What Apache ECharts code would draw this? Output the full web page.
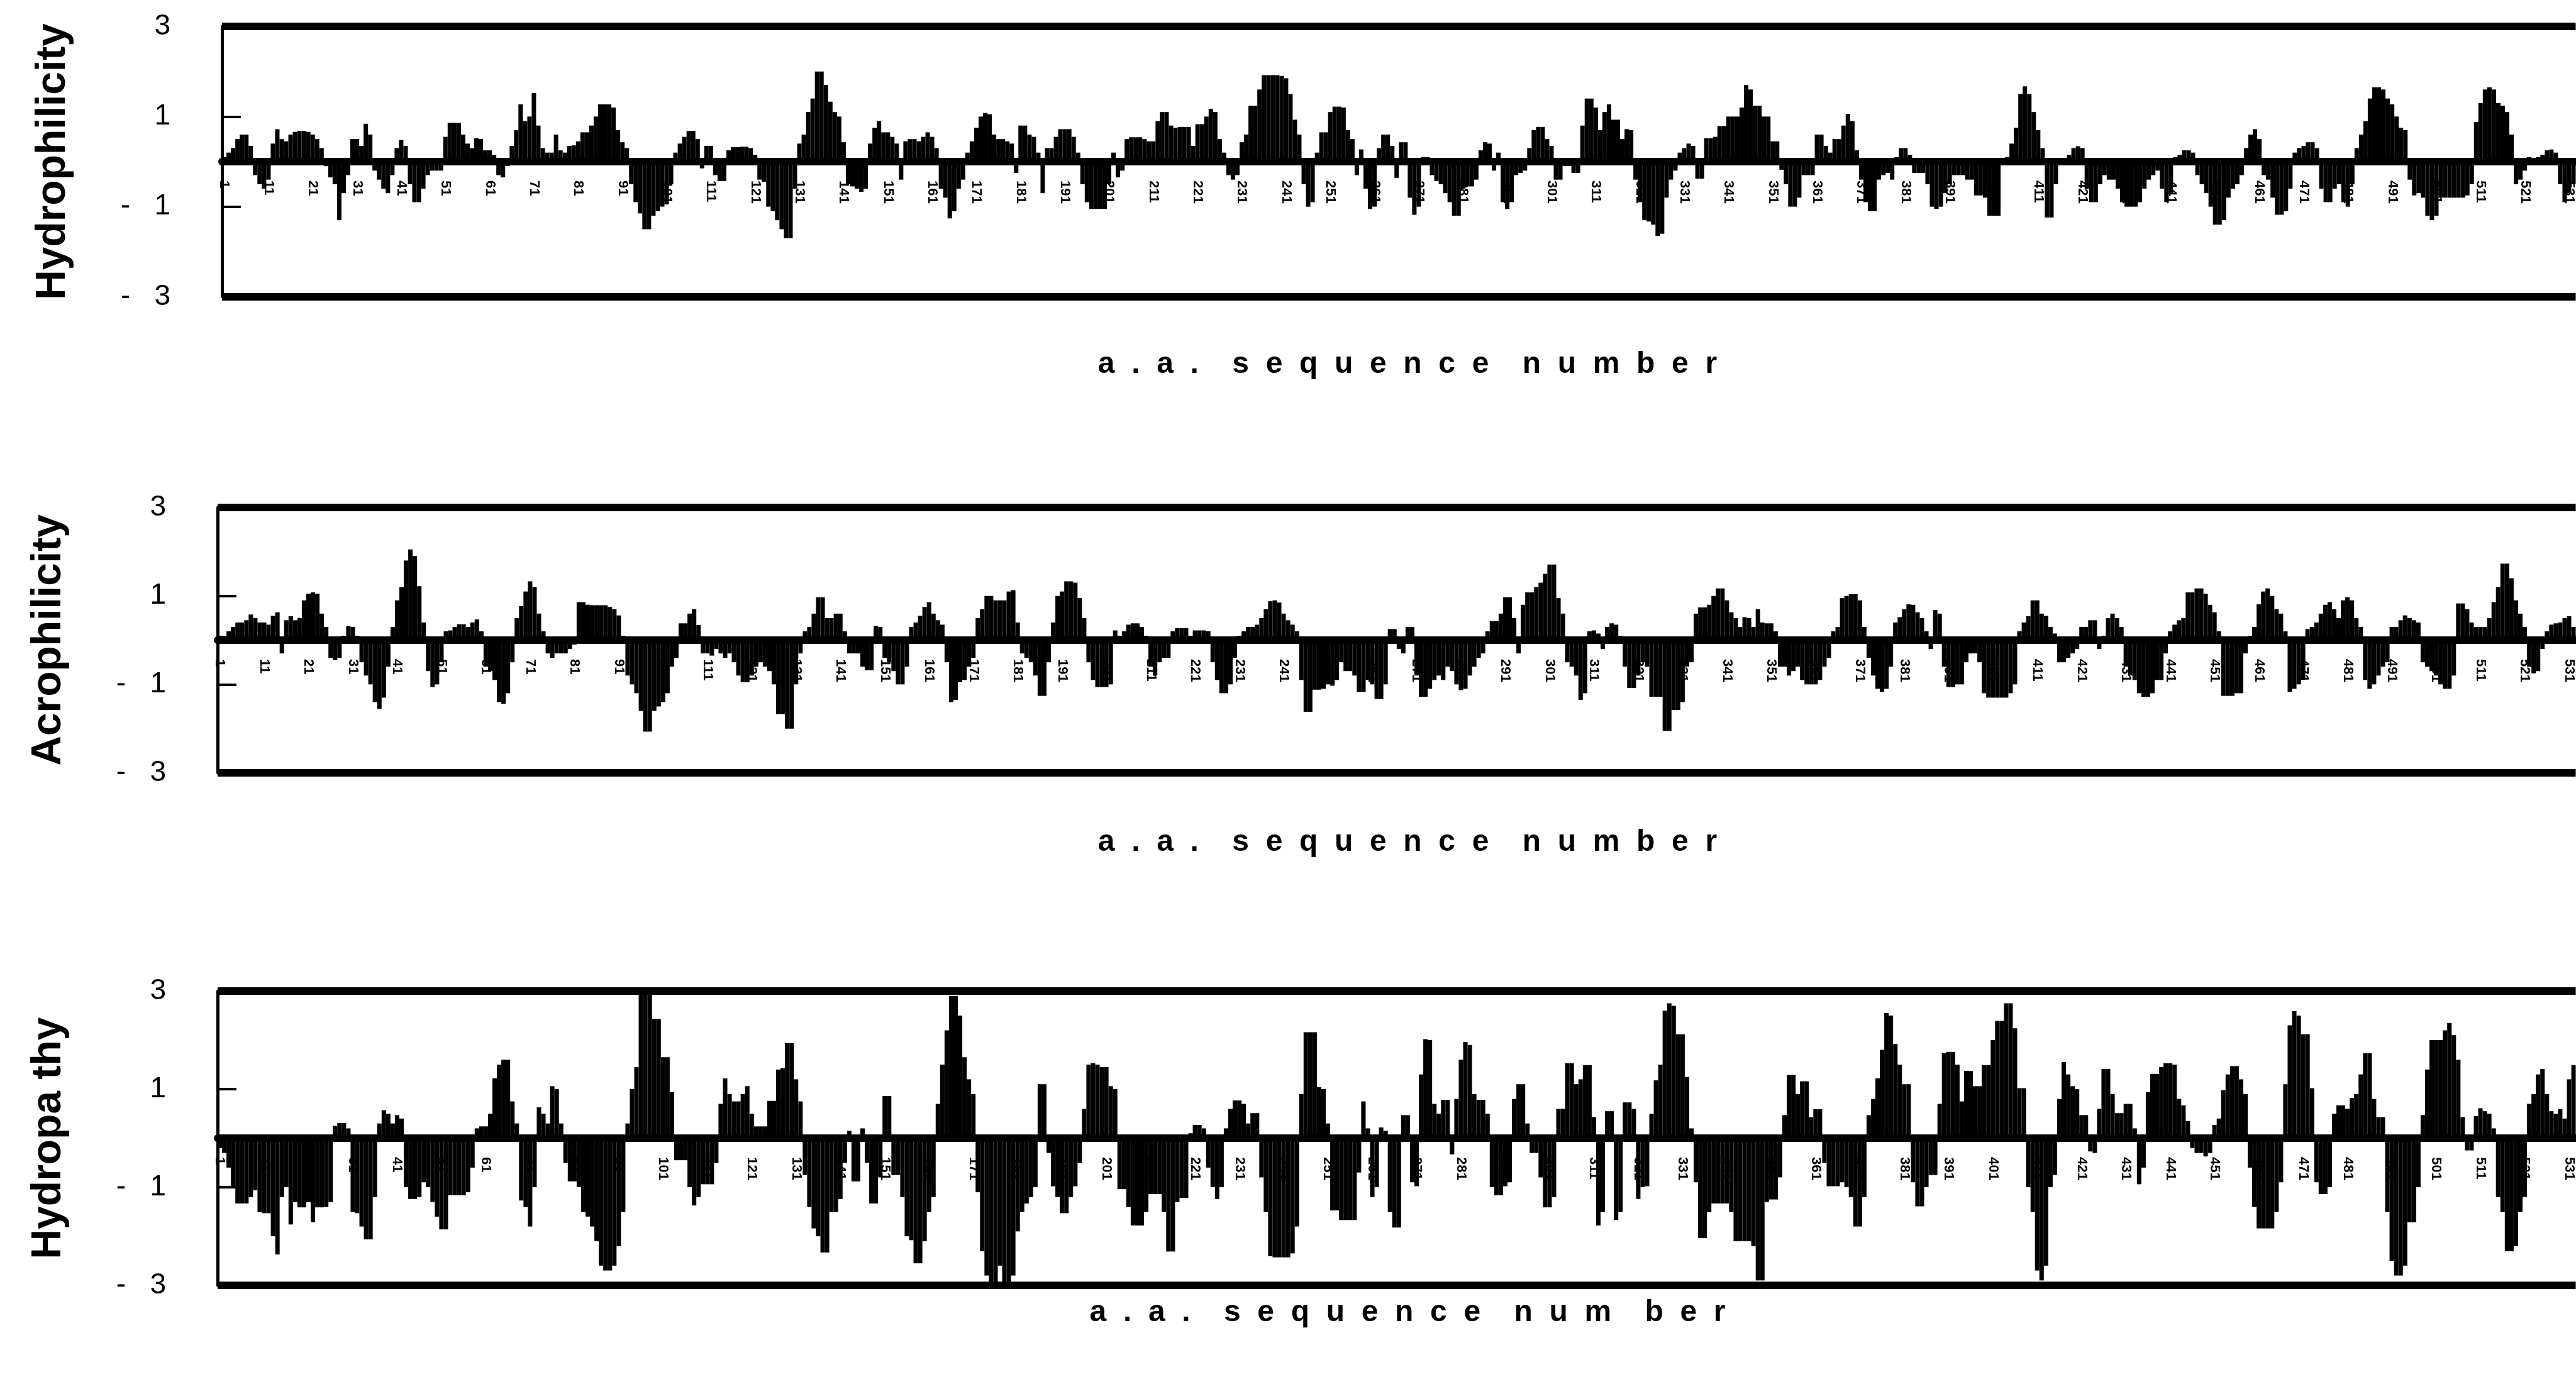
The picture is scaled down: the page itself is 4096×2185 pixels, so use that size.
<!DOCTYPE html>
<html>
<head>
<meta charset="utf-8">
<script src="https://cdn.jsdelivr.net/npm/echarts@6/dist/echarts.min.js"></script>
<style>
  html, body { margin: 0; padding: 0; background: #fff; }
  #chart { width: 4096px; height: 2185px; }
</style>
</head>
<body>
<div id="chart"></div>
<script>
// values per residue (residues 1..532 visible)
const hydrophilicity = [
  0.1, 0.2, 0.3, 0.5, 0.6, 0.6, 0.35, -0.3, -0.5, -0.6,
  -0.4, 0.4, 0.72, 0.5, 0.45, 0.6, 0.66, 0.68, 0.68, 0.66,
  0.6, 0.5, 0.3, -0.1, -0.35, -0.5, -1.3, -0.7, -0.3, 0.5,
  0.5, 0.35, 0.84, 0.6, -0.2, -0.4, -0.6, -0.7, -0.3, 0.3,
  0.48, 0.35, -0.5, -0.9, -0.9, -0.6, -0.3, -0.2, -0.2, -0.2,
  0.55, 0.86, 0.86, 0.86, 0.6, 0.4, 0.3, 0.52, 0.5, 0.25,
  0.25, 0.15, -0.3, -0.35, -0.1, 0.35, 0.7, 1.27, 0.9, 1.0,
  1.52, 0.8, 0.3, 0.2, 0.2, 0.6, 0.25, 0.2, 0.35, 0.36,
  0.45, 0.65, 0.65, 0.8, 1.0, 1.27, 1.27, 1.27, 1.2, 0.7,
  0.43, 0.3, -0.5, -0.9, -1.15, -1.5, -1.5, -1.2, -1.1, -1.0,
  -0.95, -0.5, 0.2, 0.4, 0.55, 0.68, 0.68, 0.5, -0.15, 0.35,
  0.35, -0.3, -0.43, -0.43, 0.25, 0.32, 0.32, 0.33, 0.33, 0.3,
  0.15, -0.4, -0.45, -1.0, -1.1, -1.3, -1.5, -1.7, -1.7, -0.6,
  0.4, 0.6, 1.1, 1.4, 2.0, 2.0, 1.7, 1.33, 1.1, 1.0,
  0.43, -0.5, -0.55, -0.6, -0.67, -0.6, 0.4, 0.75, 0.9, 0.65,
  0.65, 0.55, 0.4, -0.4, 0.45, 0.5, 0.5, 0.45, 0.55, 0.65,
  0.55, 0.3, -0.6, -0.8, -1.26, -1.1, -0.6, -0.4, 0.2, 0.45,
  0.75, 1.0, 1.08, 1.05, 0.6, 0.5, 0.5, 0.45, 0.4, -0.25,
  0.8, 0.8, 0.6, 0.55, 0.2, -0.7, 0.3, 0.3, 0.55, 0.72,
  0.72, 0.72, 0.55, 0.2, -0.5, -0.9, -1.05, -1.05, -1.05, -1.05,
  -0.5, 0.2, -0.35, -0.2, 0.5, 0.54, 0.54, 0.54, 0.5, 0.45,
  0.45, 0.9, 1.1, 1.1, 0.8, 0.75, 0.77, 0.77, 0.77, 0.35,
  0.83, 0.83, 1.0, 1.17, 1.1, 0.5, 0.2, -0.3, -0.4, -0.3,
  0.43, 0.6, 1.24, 1.24, 1.6, 1.92, 1.92, 1.92, 1.92, 1.9,
  1.85, 1.5, 0.93, 0.6, -0.5, -1.0, -0.9, 0.2, 0.65, 0.65,
  1.1, 1.22, 1.22, 1.2, 0.7, 0.5, -0.3, 0.27, -0.6, -1.05,
  -1.0, 0.3, 0.6, 0.6, 0.35, -0.36, 0.43, 0.43, -0.8, -1.18,
  -1.0, 0.1, 0.1, -0.3, -0.43, -0.5, -0.7, -0.9, -1.2, -1.2,
  -0.6, -0.55, -0.55, -0.4, 0.25, 0.43, 0.4, -0.2, 0.2, -0.9,
  -1.05, -0.9, -0.3, -0.25, -0.2, 0.3, 0.7, 0.77, 0.77, 0.5,
  0.35, -0.4, -0.4, -0.1, -0.1, -0.25, -0.25, 0.8, 1.4, 1.4,
  1.2, 0.7, 1.1, 1.27, 0.93, 0.93, 0.5, 0.72, 0.7, -0.4,
  -0.9, -1.3, -1.33, -1.4, -1.65, -1.6, -0.8, -0.4, -0.2, 0.2,
  0.3, 0.4, 0.35, -0.38, -0.38, 0.52, 0.52, 0.55, 0.79, 0.79,
  1.0, 1.0, 1.0, 1.2, 1.7, 1.6, 1.24, 1.24, 1.0, 1.0,
  0.45, 0.45, -0.18, -0.5, -1.0, -1.0, -0.8, -0.3, -0.3, -0.3,
  0.6, 0.6, 0.35, 0.2, 0.5, 0.5, 0.8, 1.06, 0.9, 0.25,
  -0.4, -0.9, -1.1, -1.1, -0.4, -0.3, -0.25, -0.4, 0.1, 0.3,
  0.3, 0.15, -0.25, -0.25, -0.25, -0.5, -1.0, -1.05, -1.0, -0.7,
  -0.5, -0.3, -0.3, -0.3, -0.4, -0.4, -0.75, -0.75, -0.8, -1.2,
  -1.2, -1.2, 0.05, 0.1, 0.4, 0.75, 1.5, 1.67, 1.5, 1.1,
  0.7, 0.3, -1.24, -1.24, -0.5, 0.05, 0.05, 0.15, 0.3, 0.34,
  0.3, -0.6, -0.9, -0.9, -0.5, -0.3, -0.4, -0.4, -0.6, -0.9,
  -1.0, -1.0, -1.0, -0.9, -0.6, -0.4, -0.3, -0.2, -0.6, -0.9,
  -0.7, 0.1, 0.15, 0.25, 0.25, 0.2, -0.3, -0.5, -0.7, -1.0,
  -1.4, -1.4, -1.3, -0.8, -0.6, -0.5, -0.3, 0.3, 0.6, 0.72,
  0.5, -0.3, -0.4, -0.8, -1.18, -1.18, -1.1, -0.6, 0.2, 0.3,
  0.35, 0.43, 0.43, 0.3, -0.6, -0.9, -0.9, -0.6, -0.5, -0.9,
  -1.0, -0.5, 0.3, 0.6, 0.9, 1.4, 1.65, 1.65, 1.6, 1.4,
  1.27, 1.0, 0.75, 0.7, -0.4, -0.75, -0.7, -0.8, -1.2, -1.3,
  -1.2, -0.8, -0.8, -0.8, -0.8, -0.8, -0.8, -0.75, -0.5, 0.88,
  1.3, 1.6, 1.65, 1.6, 1.3, 1.24, 1.1, 0.6, -0.5, -0.4,
  -0.2, 0.1, 0.05, 0.1, 0.15, 0.25, 0.27, 0.2, -0.5, -0.9,
  -0.7, -0.5
];

const acrophilicity = [
  0.1, 0.1, 0.2, 0.3, 0.4, 0.4, 0.45, 0.58, 0.5, 0.4,
  0.4, 0.35, 0.55, 0.63, -0.3, 0.45, 0.54, 0.45, 0.5, 0.9,
  1.05, 1.08, 1.05, 0.6, 0.3, -0.4, -0.45, -0.4, 0.1, 0.32,
  0.3, 0.1, -0.5, -0.8, -1.0, -1.4, -1.55, -1.3, -0.6, 0.3,
  0.9, 1.2, 1.8, 2.05, 1.9, 1.22, 0.4, -0.7, -1.06, -1.0,
  -0.5, 0.2, 0.22, 0.3, 0.36, 0.36, 0.3, 0.4, 0.47, 0.2,
  -0.6, -0.7, -0.9, -1.4, -1.44, -1.2, -0.5, 0.5, 0.77, 1.1,
  1.33, 1.2, 0.6, 0.2, -0.3, -0.4, -0.3, -0.3, -0.3, -0.2,
  -0.1, 0.86, 0.86, 0.8, 0.79, 0.79, 0.79, 0.79, 0.75, 0.7,
  0.56, 0.1, -0.8, -1.0, -1.2, -1.6, -2.07, -2.07, -1.6, -1.5,
  -1.4, -1.2, -0.6, -0.4, 0.38, 0.38, 0.6, 0.7, 0.34, -0.3,
  -0.3, -0.35, -0.2, -0.3, -0.4, -0.3, -0.5, -0.8, -0.95, -0.95,
  -0.8, -0.6, -0.5, -0.6, -0.7, -1.0, -1.67, -1.67, -2.0, -2.0,
  -1.0, -0.3, 0.2, 0.3, 0.6, 0.97, 0.97, 0.5, 0.5, 0.6,
  0.6, 0.2, -0.3, -0.3, -0.3, -0.6, -0.68, -0.68, 0.32, 0.3,
  -0.4, -0.5, -0.7, -1.0, -1.0, -0.6, 0.3, 0.4, 0.55, 0.75,
  0.86, 0.6, 0.45, 0.35, -0.5, -1.4, -1.35, -0.95, -0.9, -0.6,
  -0.4, 0.5, 0.7, 1.0, 1.0, 0.9, 0.9, 0.9, 1.1, 1.13,
  0.4, -0.3, -0.4, -0.5, -0.8, -1.26, -1.26, -0.5, 0.4, 1.0,
  1.1, 1.33, 1.33, 1.3, 0.95, 0.5, -0.5, -0.9, -1.06, -1.06,
  -1.06, -1.0, 0.22, 0.1, 0.2, 0.35, 0.38, 0.38, 0.3, 0.1,
  -0.6, -0.8, -0.5, -0.4, -0.4, 0.2, 0.27, 0.27, 0.27, 0.1,
  0.22, 0.22, 0.22, 0.2, -0.5, -0.9, -1.2, -1.2, -1.0, -0.4,
  0.1, 0.2, 0.3, 0.3, 0.35, 0.5, 0.7, 0.88, 0.9, 0.85,
  0.6, 0.45, 0.35, 0.2, -0.9, -1.62, -1.62, -1.12, -1.12, -1.1,
  -1.0, -1.03, -0.9, -0.5, -0.7, -0.7, -0.8, -1.17, -1.17, -0.9,
  -1.0, -1.33, -1.33, -1.0, 0.25, 0.25, -0.2, -0.3, 0.3, 0.3,
  -0.8, -1.28, -1.28, -1.1, -0.9, -0.8, -0.9, -0.6, -0.7, -1.0,
  -1.13, -1.1, -0.8, -0.6, -0.4, -0.3, 0.2, 0.43, 0.43, 0.6,
  0.97, 0.97, 0.5, -0.3, 0.8, 1.08, 1.08, 1.2, 1.3, 1.5,
  1.71, 1.71, 0.95, 0.6, -0.5, -0.6, -0.8, -1.35, -1.2, 0.2,
  0.22, 0.15, -0.2, 0.3, 0.38, 0.35, 0.1, -0.6, -1.08, -1.08,
  -0.8, -0.5, -0.6, -1.28, -1.28, -1.28, -2.05, -2.05, -1.58, -1.58,
  -1.4, -0.6, -0.5, 0.6, 0.74, 0.74, 0.8, 1.0, 1.17, 1.17,
  0.9, 0.63, 0.5, 0.3, 0.52, 0.5, 0.3, 0.7, 0.4, 0.38,
  0.38, 0.2, -0.6, -0.6, -0.8, -0.7, -0.6, -0.9, -1.0, -1.0,
  -1.0, -0.9, -0.6, -0.4, 0.2, 0.3, 0.95, 1.0, 1.04, 1.04,
  0.9, 0.3, -0.4, -0.8, -1.1, -1.17, -1.1, -0.6, 0.4, 0.52,
  0.7, 0.81, 0.8, 0.63, 0.5, 0.2, -0.2, 0.68, 0.6, -0.6,
  -1.06, -1.06, -1.0, -1.0, -0.5, -0.3, -0.3, -0.5, -1.2, -1.3,
  -1.3, -1.3, -1.3, -1.3, -1.2, -1.0, 0.2, 0.4, 0.54, 0.9,
  0.9, 0.6, 0.55, 0.3, 0.15, -0.5, -0.5, -0.4, -0.3, -0.2,
  0.3, 0.3, 0.45, 0.45, -0.2, 0.1, 0.5, 0.6, 0.5, 0.3,
  -0.6, -0.8, -0.9, -1.2, -1.28, -1.28, -1.2, -0.9, -0.9, -0.3,
  0.2, 0.35, 0.45, 0.5, 1.08, 1.08, 1.17, 1.17, 1.05, 0.8,
  0.63, 0.2, -1.26, -1.26, -1.26, -1.2, -1.2, -0.3, 0.1, 0.3,
  0.81, 1.1, 1.17, 1.0, 0.7, 0.6, 0.2, -1.17, -1.1, -1.0,
  -0.9, 0.25, 0.3, 0.4, 0.6, 0.8, 0.86, 0.7, 0.5, 0.9,
  0.97, 0.9, 0.5, 0.3, -0.9, -1.1, -1.0, -0.8, -0.6, -0.5,
  0.3, 0.3, 0.45, 0.56, 0.5, 0.45, 0.4, -0.5, -0.6, -0.7,
  -0.8, -1.0, -1.1, -1.1, -0.8, 0.83, 0.83, 0.7, 0.4, 0.3,
  0.3, 0.3, 0.5, 0.86, 1.2, 1.73, 1.73, 1.4, 0.9, 0.6,
  0.3, -0.6, -0.75, -0.7, -0.2, 0.2, 0.35, 0.38, 0.4, 0.5,
  0.54, 0.3
];

const hydropathy = [
  -0.2, -0.3, -0.6, -1.0, -1.33, -1.33, -1.33, -1.2, -1.06, -1.5,
  -1.53, -1.53, -2.0, -2.37, -1.2, -1.0, -1.76, -1.3, -1.41, -1.41,
  -1.3, -1.71, -1.41, -1.41, -1.4, -1.3, 0.25, 0.31, 0.31, 0.2,
  -1.5, -1.53, -1.8, -2.06, -2.06, -1.2, 0.3, 0.57, 0.5, 0.3,
  0.47, 0.4, -1.0, -1.24, -1.24, -1.2, -0.9, -1.0, -1.3, -1.6,
  -1.86, -1.86, -1.16, -1.16, -1.16, -1.16, -1.1, -0.6, 0.2, 0.24,
  0.24, 0.5, 1.22, 1.5, 1.6, 1.6, 0.75, 0.3, -1.27, -1.4,
  -1.8, -1.0, 0.63, 0.5, 0.3, 1.06, 1.0, 0.3, -0.5, -0.88,
  -0.88, -1.0, -1.5, -1.6, -1.8, -2.1, -2.6, -2.7, -2.7, -2.6,
  -2.2, -1.5, 0.3, 1.0, 1.45, 3.0, 3.0, 3.0, 2.43, 2.43,
  1.65, 1.65, 0.94, -0.45, -0.45, -0.45, -1.0, -1.37, -1.2, -0.94,
  -0.94, -0.94, -0.5, 0.7, 1.22, 0.9, 0.75, 0.75, 0.9, 1.06,
  0.5, 0.24, 0.24, 0.24, 0.76, 0.76, 1.4, 1.43, 1.94, 1.94,
  1.2, 0.75, -0.75, -1.4, -1.84, -2.0, -2.33, -2.33, -1.5, -1.5,
  -1.24, -0.5, 0.15, -0.88, -0.88, 0.2, -0.5, -1.33, -1.33, -0.8,
  0.86, 0.86, -0.75, -0.75, -1.2, -2.0, -2.08, -2.55, -2.55, -2.1,
  -1.5, -1.2, 0.7, 1.5, 2.2, 2.9, 2.9, 2.5, 1.65, 1.2,
  0.9, -1.1, -2.3, -2.8, -3.0, -3.0, -2.6, -3.0, -3.0, -2.8,
  -1.9, -1.5, -1.33, -1.2, -1.0, 1.1, 1.1, -0.3, -0.98, -1.2,
  -1.53, -1.53, -1.2, -0.98, -0.5, 0.6, 1.5, 1.53, 1.5, 1.45,
  1.45, 1.06, 1.0, -1.04, -1.04, -1.4, -1.78, -1.78, -1.78, -1.5,
  -1.14, -1.14, -1.14, -1.5, -2.31, -2.31, -1.3, -1.22, -1.22, 0.1,
  0.27, 0.27, 0.2, -0.6, -1.0, -1.24, -1.0, 0.2, 0.6, 0.77,
  0.77, 0.7, 0.3, 0.51, 0.51, -0.8, -1.5, -2.4, -2.43, -2.43,
  -2.43, -2.43, -2.35, -1.8, 0.9, 2.16, 2.16, 2.16, 1.04, 1.0,
  0.3, -1.47, -1.47, -1.67, -1.67, -1.67, -1.67, -0.7, 0.75, 0.2,
  -1.2, -1.0, 0.22, 0.15, -1.5, -1.82, -1.82, 0.47, 0.47, -0.9,
  -0.98, 1.3, 2.02, 2.0, 0.7, 0.5, 0.78, 0.78, -0.33, 0.8,
  1.6, 1.96, 1.9, 0.9, 0.78, 0.78, 0.5, -1.0, -1.16, -1.16,
  -0.98, -0.9, 0.8, 1.1, 1.1, 0.3, -0.3, -0.3, -0.8, -1.41,
  -1.41, -1.2, 0.6, 0.6, 1.53, 1.53, 1.1, 1.2, 1.49, 1.49,
  0.43, -1.78, -1.5, 0.55, 0.55, -1.67, -1.5, 0.73, 0.73, 0.6,
  -1.24, -1.0, -0.98, 0.5, 1.18, 1.5, 2.6, 2.75, 2.7, 2.12,
  2.12, 1.25, 0.2, -0.9, -2.04, -2.04, -1.5, -1.33, -1.33, -1.33,
  -1.33, -1.5, -2.1, -2.1, -2.1, -2.1, -2.2, -2.9, -2.9, -1.3,
  -1.25, -1.25, -0.8, 0.47, 1.29, 1.29, 0.9, 1.16, 1.16, 0.43,
  0.59, 0.59, -0.5, -0.98, -0.98, -0.98, -0.9, -1.0, -1.2, -1.8,
  -1.8, -1.2, 0.47, 0.8, 1.22, 1.8, 2.55, 2.5, 1.92, 1.5,
  1.1, 1.1, -0.9, -1.39, -1.39, -1.0, -0.75, -0.75, 0.7, 1.73,
  1.76, 1.76, 1.5, 0.75, 1.37, 1.37, 1.06, 1.06, 1.49, 1.49,
  2.0, 2.39, 2.39, 2.75, 2.75, 2.24, 1.02, 1.02, -1.0, -1.5,
  -2.7, -2.9, -2.6, -1.0, -0.75, 0.8, 1.55, 1.3, 1.06, 1.0,
  0.47, 0.47, -0.27, -0.3, 0.6, 1.41, 1.41, 0.9, 0.51, 0.51,
  0.7, 0.7, 0.2, -0.94, -0.6, 0.94, 1.31, 1.31, 1.45, 1.53,
  1.53, 1.5, 0.8, 0.67, 0.35, -0.2, -0.3, -0.3, -0.37, -0.3,
  0.27, 0.4, 0.98, 1.3, 1.47, 1.47, 1.2, 0.9, -0.6, -1.4,
  -1.84, -1.84, -1.84, -1.84, -1.5, -0.9, 1.1, 2.3, 2.59, 2.5,
  2.12, 2.12, 1.02, -0.9, -1.14, -1.14, -1.0, 0.5, 0.67, 0.67,
  0.6, 0.82, 0.9, 1.3, 1.73, 1.73, 0.8, 0.43, 0.43, -1.5,
  -2.5, -2.8, -2.8, -2.6, -1.71, -1.71, -1.0, 0.47, 1.4, 2.0,
  2.0, 2.0, 2.2, 2.35, 2.1, 1.6, 0.43, -0.25, -0.25, 0.45,
  0.61, 0.55, 0.5, 0.2, -1.2, -1.5, -2.3, -2.3, -2.2, -1.5,
  -1.2, 0.7, 0.9, 1.3, 1.41, 0.9, 0.55, 0.5, 0.59, 0.4,
  1.2, 1.49
];

const panelNames = ['Hydrophilicity', 'Acrophilicity', 'Hydropa thy'];
const xTitleWords = [['a.a.', 'sequence', 'number'], ['a.a.', 'sequence', 'number'], ['a.a.', 'sequence', 'num', 'ber']];
const yTickValues = [3, 1, -1, -3];
const residues = hydrophilicity.map((_, i) => String(i + 1));

const FONT = '"Liberation Sans", Arial, Helvetica, sans-serif';

// layout of the three framed panels (px in the 4096x2185 window)
const panels = [
  { left: 353, top: 42, height: 430, titleY: 580 },
  { left: 346, top: 807, height: 422, titleY: 1340 },
  { left: 346, top: 1576, height: 468, titleY: 2088 }
];
const seriesData = [hydrophilicity, acrophilicity, hydropathy];

function spaced(words) {
  // wide letter spacing as in the scanned figure
  return words.map(w => w.split('').join('  ')).join('    ');
}

const chart = echarts.init(document.getElementById('chart'));

const option = {
  animation: false,
  backgroundColor: '#fff',
  grid: panels.map(p => ({ left: p.left, right: 0, top: p.top, height: p.height })),
  // the sequence axis sits on the zero line (top axis pushed down by half the panel)
  xAxis: panels.map((p, k) => ({
    type: 'category',
    gridIndex: k,
    data: residues,
    position: 'top',
    offset: -p.height / 2,
    axisLine: { onZero: false, lineStyle: { color: '#000', width: 12 } },
    axisTick: { show: false },
    axisLabel: {
      inside: true,
      interval: (i) => i % 10 === 0,
      rotate: 90,
      margin: 30,
      fontSize: 22,
      fontWeight: 'bold',
      fontFamily: FONT,
      color: '#000'
    },
    splitLine: { show: false }
  })),
  yAxis: panels.map((p, k) => ({
    type: 'value',
    gridIndex: k,
    min: yTickValues[3],
    max: yTickValues[0],
    interval: 2,
    name: panelNames[k],
    nameLocation: 'middle',
    nameRotate: 90,
    nameGap: 235,
    nameTextStyle: { fontSize: 66, fontWeight: 'bold', fontFamily: FONT, color: '#000' },
    axisLine: { show: true, onZero: false, lineStyle: { color: '#000', width: 5 } },
    axisTick: { show: true, inside: true, length: 30, lineStyle: { color: '#000', width: 4 } },
    axisLabel: {
      formatter: v => (v < 0 ? '-   ' + (-v) : String(v)),
      fontSize: 46,
      fontFamily: '"Liberation Sans Narrow", ' + FONT,
      color: '#000',
      margin: 82
    },
    splitLine: { show: false }
  })),
  series: seriesData.map((d, k) => ({
    type: 'bar',
    xAxisIndex: k,
    yAxisIndex: k,
    data: d,
    barCategoryGap: '0%',
    barGap: '0%',
    clip: false,
    itemStyle: { color: '#000' },
    // top and bottom edges of the frame
    markLine: {
      silent: true,
      symbol: ['none', 'none'],
      label: { show: false },
      lineStyle: { color: '#000', width: 12, type: 'solid' },
      data: [{ yAxis: yTickValues[0] }, { yAxis: yTickValues[3] }]
    }
  })),
  graphic: panels.map((p, k) => ({
    type: 'text',
    x: 2238,
    y: p.titleY,
    style: {
      text: spaced(xTitleWords[k]),
      fontSize: 48,
      fontWeight: 'bold',
      fontFamily: FONT,
      fill: '#000',
      align: 'center',
      verticalAlign: 'middle'
    }
  }))
};

chart.setOption(option);
</script>
</body>
</html>
